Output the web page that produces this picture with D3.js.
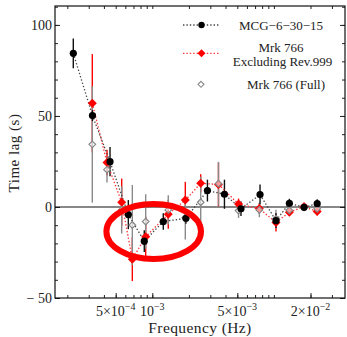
<!DOCTYPE html>
<html><head><meta charset="utf-8">
<script src="https://cdn.jsdelivr.net/npm/d3@7"></script>
<style>body{margin:0;background:#fff}svg{display:block}text{font-family:"Liberation Serif","DejaVu Serif",serif}</style>
</head><body>
<svg id="c" width="347" height="337"></svg>
<script>
// MCG-6-30-15
const mcgFreq = [2.24e-4, 3.22e-4, 4.49e-4, 6.35e-4, 8.59e-4, 1.231e-3, 1.89e-3, 2.84e-3, 3.92e-3, 5.36e-3, 7.69e-3, 1.04e-2, 1.34e-2, 1.77e-2, 2.27e-2];
const mcgLag  = [84.4, 50.2, 24.9, -4.2, -18.8, -8, -6.2, 9, 7, -1, 6.8, -7.5, 2, -0.2, 1.8];
const mcgErr  = [8.2, 3, 8, 8, 6, 4.5, 3, 6, 8, 4, 5.5, 4, 2.5, 1.5, 2.5];
// Mrk 766 frequencies
const mrkFreq = [3.21e-4, 4.24e-4, 5.60e-4, 6.85e-4, 8.82e-4, 1.353e-3, 1.868e-3, 2.50e-3, 3.50e-3, 5.12e-3, 7.59e-3, 1.04e-2, 1.34e-2, 1.77e-2, 2.27e-2];
// Mrk 766 excluding Rev.999
const exclLag = [57, 24.4, 2.6, -28.7, -16.3, -4, 3.8, 13, 12.4, 1.6, -0.9, -8.5, -2.9, 0.3, -2.5];
const exclErr = [27, 7, 13, 12, 11, 8, 10, 5, 12, 3, 3, 5, 2, 1.5, 2];
// Mrk 766 full
const fullLag = [34.4, 20.5, -1.6, -9.9, -8, -1.6, -5.9, 2.6, 12.8, -2, -1.6, -6.5, -1.8, -0.2, -1];
const fullErr = [32, 7, 13, 22, 15, 8, 12, 14, 12, 4, 4, 5, 2, 1.5, 2];

const xMinorTicks = [2e-4,3e-4,4e-4,5e-4,6e-4,7e-4,8e-4,9e-4,1e-3,2e-3,3e-3,4e-3,5e-3,6e-3,7e-3,8e-3,9e-3,1e-2,2e-2,3e-2];
const xLabelTicks = [{v:5e-4, m:"5×10", e:"−4"}, {v:1e-3, m:"10", e:"−3"}, {v:5e-3, m:"5×10", e:"−3"}, {v:2e-2, m:"2×10", e:"−2"}];
const yMajorTicks = [-50, 0, 50, 100];
const yMinorTicks = d3.range(-50, 111, 10);

const L = 55, R = 345, T = 6, B = 298;
const x = d3.scaleLog().domain([1.584e-4, 3.843e-2]).range([L, R]);
const y = d3.scaleLinear().domain([-50, 110.4]).range([B, T]);

const svg = d3.select("#c");

// axes ticks
const gB = svg.append("g").attr("transform", `translate(0,${B})`);
gB.call(d3.axisBottom(x).tickValues(xMinorTicks).tickSize(-3).tickFormat(""));
gB.call(g => g.append("g").call(d3.axisBottom(x).tickValues(xLabelTicks.map(d=>d.v)).tickSize(-5).tickFormat("")));
const gT = svg.append("g").attr("transform", `translate(0,${T})`);
gT.call(d3.axisTop(x).tickValues(xMinorTicks).tickSize(-3).tickFormat(""));
const gL = svg.append("g").attr("transform", `translate(${L},0)`);
gL.call(d3.axisLeft(y).tickValues(yMinorTicks).tickSize(-3).tickFormat(""));
gL.append("g").call(d3.axisLeft(y).tickValues(yMajorTicks).tickSize(-5).tickFormat(""));
const gR = svg.append("g").attr("transform", `translate(${R},0)`);
gR.call(d3.axisRight(y).tickValues(yMinorTicks).tickSize(-3).tickFormat(""));
gR.append("g").call(d3.axisRight(y).tickValues(yMajorTicks).tickSize(-5).tickFormat(""));
svg.selectAll(".domain").remove();
svg.selectAll(".tick line").attr("stroke", "#222").attr("stroke-width", 1);

// frame
svg.append("rect").attr("x", L).attr("y", T).attr("width", R-L).attr("height", B-T)
  .attr("fill","none").attr("stroke","#111").attr("stroke-width",1.2);

// tick labels
xLabelTicks.forEach(d => {
  const t = svg.append("text").attr("x", x(d.v)).attr("y", 316).attr("text-anchor","middle")
    .attr("font-size", 14).attr("fill","#222");
  t.append("tspan").text(d.m);
  t.append("tspan").attr("dy", -6).attr("font-size", 10).text(d.e);
});
yMajorTicks.forEach(v => {
  svg.append("text").attr("x", 52).attr("y", y(v)+4.8).attr("text-anchor","end")
    .attr("font-size",14).attr("fill","#222").text(v < 0 ? "− " + Math.abs(v) : v);
});
svg.append("text").attr("x", 200).attr("y", 332.5).attr("text-anchor","middle").attr("font-size",15.5)
  .attr("fill","#222").attr("letter-spacing",0.4).text("Frequency (Hz)");
svg.append("text").attr("transform","translate(19,153) rotate(-90)").attr("text-anchor","middle")
  .attr("font-size",15).attr("fill","#222").attr("letter-spacing",0.5).text("Time lag (s)");

// zero line
svg.append("line").attr("x1", L).attr("x2", R).attr("y1", y(0)).attr("y2", y(0))
  .attr("stroke","#111").attr("stroke-width",1.2);

const mcg = mcgFreq.map((f,i)=>({f, v:mcgLag[i], e:mcgErr[i]}));
const excl = mrkFreq.map((f,i)=>({f, v:exclLag[i], e:exclErr[i]}));
const full = mrkFreq.map((f,i)=>({f, v:fullLag[i], e:fullErr[i]}));

function bars(data, color) {
  svg.append("g").selectAll("line").data(data).join("line")
    .attr("x1", d=>x(d.f)).attr("x2", d=>x(d.f))
    .attr("y1", d=>y(d.v+d.e)).attr("y2", d=>y(d.v-d.e))
    .attr("stroke", color).attr("stroke-width", 1.4);
}
const line = d3.line().x(d=>x(d.f)).y(d=>y(d.v));

bars(excl, "#f00");
bars(full, "#8a8a8a");
bars(mcg, "#111");

svg.append("path").datum(excl).attr("d", line).attr("fill","none")
  .attr("stroke","#f33").attr("stroke-width",1.3).attr("stroke-dasharray","1.4,2");
svg.append("path").datum(mcg).attr("d", line).attr("fill","none")
  .attr("stroke","#444").attr("stroke-width",1.3).attr("stroke-dasharray","1.4,2");

const dia = (s) => `M0,${-s}L${s},0L0,${s}L${-s},0Z`;
svg.append("g").selectAll("path").data(excl).join("path")
  .attr("transform", d=>`translate(${x(d.f)},${y(d.v)})`).attr("d", dia(4.5)).attr("fill","#f00");
svg.append("g").selectAll("path").data(full).join("path")
  .attr("transform", d=>`translate(${x(d.f)},${y(d.v)})`).attr("d", dia(3.3))
  .attr("fill","#fff").attr("fill-opacity",0.6).attr("stroke","#888").attr("stroke-width",1.2);
svg.append("g").selectAll("circle").data(mcg).join("circle")
  .attr("cx", d=>x(d.f)).attr("cy", d=>y(d.v)).attr("r", 3.6).attr("fill","#000");

// legend
const lg = svg.append("g");
lg.append("line").attr("x1",183).attr("x2",220).attr("y1",25).attr("y2",25)
  .attr("stroke","#444").attr("stroke-width",1.3).attr("stroke-dasharray","1.4,2");
lg.append("circle").attr("cx",201.5).attr("cy",25).attr("r",3.2).attr("fill","#000");
lg.append("text").attr("x",281).attr("y",29.5).attr("text-anchor","middle").attr("font-size",13).attr("fill","#222").text("MCG−6−30−15");
lg.append("line").attr("x1",183).attr("x2",220).attr("y1",53.3).attr("y2",53.3)
  .attr("stroke","#f33").attr("stroke-width",1.3).attr("stroke-dasharray","1.4,2");
lg.append("path").attr("transform","translate(201.5,53.3)").attr("d",dia(4)).attr("fill","#f00");
lg.append("text").attr("x",281).attr("y",52).attr("text-anchor","middle").attr("font-size",13).attr("fill","#222").text("Mrk 766");
lg.append("text").attr("x",282.5).attr("y",66).attr("text-anchor","middle").attr("font-size",13).attr("fill","#222").text("Excluding Rev.999");
lg.append("path").attr("transform","translate(201,84.3)").attr("d",dia(3)).attr("fill","#fff").attr("stroke","#888").attr("stroke-width",1.1);
lg.append("text").attr("x",286).attr("y",88.5).attr("text-anchor","middle").attr("font-size",13).attr("fill","#222").text("Mrk 766 (Full)");

// red ellipse annotation
svg.append("ellipse").attr("cx",153.7).attr("cy",231.5).attr("rx",47.3).attr("ry",27.5)
  .attr("fill","none").attr("stroke","#f00").attr("stroke-width",6);
</script>
</body></html>
